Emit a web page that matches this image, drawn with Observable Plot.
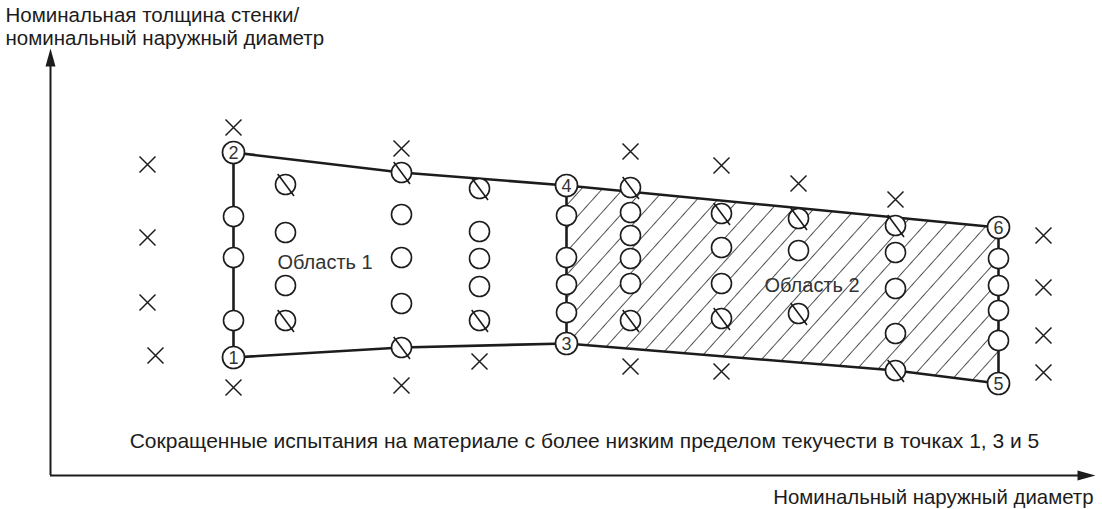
<!DOCTYPE html>
<html>
<head>
<meta charset="utf-8">
<script src="https://cdn.jsdelivr.net/npm/d3@7"></script>
<script src="https://cdn.jsdelivr.net/npm/@observablehq/plot@0.6"></script>
<style>
  body { margin: 0; background: #fff; }
  #chart svg { display: block; }
</style>
</head>
<body>
<div id="chart"></div>
<script>
// ---- Data (schematic units: x = nominal outside diameter, y = wall thickness / diameter) ----
const numberedPoints = [
  {n: "1", x: 183, y: 118},
  {n: "2", x: 183, y: 323},
  {n: "3", x: 516, y: 132},
  {n: "4", x: 516, y: 290},
  {n: "5", x: 948, y: 92},
  {n: "6", x: 948, y: 248}
];
const edgePairs = [["1", "2"], ["3", "4"], ["5", "6"]];

const outlineTop = [
  {x: 183, y: 323}, {x: 351, y: 303}, {x: 516, y: 290}, {x: 948, y: 248}
];
const outlineBottom = [
  {x: 183, y: 118}, {x: 351, y: 128}, {x: 516, y: 132}, {x: 845, y: 105}, {x: 948, y: 92}
];

const openCircles = [
  {x: 183, y: 259}, {x: 183, y: 218}, {x: 183, y: 155},
  {x: 235, y: 243}, {x: 235, y: 190},
  {x: 351, y: 261}, {x: 351, y: 218}, {x: 351, y: 172},
  {x: 429, y: 244}, {x: 429, y: 217}, {x: 429, y: 189},
  {x: 516, y: 260}, {x: 516, y: 218}, {x: 516, y: 191}, {x: 516, y: 163},
  {x: 580, y: 263}, {x: 580, y: 240}, {x: 580, y: 217}, {x: 580, y: 192},
  {x: 671, y: 228}, {x: 671, y: 192},
  {x: 748, y: 225},
  {x: 845, y: 223}, {x: 845, y: 187}, {x: 845, y: 142},
  {x: 948, y: 217}, {x: 948, y: 190}, {x: 948, y: 165}, {x: 948, y: 135}
];

const slashedCircles = [
  {x: 235, y: 291}, {x: 235, y: 155},
  {x: 351, y: 303}, {x: 351, y: 128},
  {x: 429, y: 287}, {x: 429, y: 155},
  {x: 580, y: 288}, {x: 580, y: 155},
  {x: 671, y: 262}, {x: 671, y: 157},
  {x: 748, y: 257}, {x: 748, y: 162},
  {x: 845, y: 250}, {x: 845, y: 105}
];

const crossMarks = [
  {x: 97, y: 311}, {x: 97, y: 238}, {x: 97, y: 173}, {x: 105, y: 120},
  {x: 183, y: 348}, {x: 183, y: 88},
  {x: 351, y: 327}, {x: 351, y: 90},
  {x: 429, y: 114},
  {x: 580, y: 324}, {x: 580, y: 109},
  {x: 671, y: 310}, {x: 671, y: 104},
  {x: 748, y: 292},
  {x: 845, y: 276},
  {x: 993, y: 240}, {x: 993, y: 188}, {x: 993, y: 140}, {x: 993, y: 103}
];

const regionLabels = [
  {text: "Область 1", x: 227, y: 213},
  {text: "Область 2", x: 714, y: 190}
];

const yTitleLines = ["Номинальная толщина стенки/", "номинальный наружный диаметр"];
const xTitle = "Номинальный наружный диаметр";
const caption = "Сокращенные испытания на материале с более низким пределом текучести в точках 1, 3 и 5";

const xExtent = [0, 1045];
const yExtent = [0, 427];

// ---- Derived geometry ----
const byN = Object.fromEntries(numberedPoints.map(d => [d.n, d]));
const edges = edgePairs.map(([a, b]) => ({x1: byN[a].x, y1: byN[a].y, x2: byN[b].x, y2: byN[b].y}));
// hatched Область 2: bottom outline from point 3 to 5, top edge from point 4 to 6
const p3 = byN["3"], p4 = byN["4"], p6 = byN["6"];
const lowerPart = outlineBottom.filter(d => d.x >= p3.x);
const hatchRows = lowerPart.map((d, i) => {
  const t = i === 0 ? p4 : p6;
  return {x1: d.x, y1: d.y, x2: t.x, y2: t.y};
});

// ---- Custom symbols ----
const slashedSymbol = {
  draw(context, size) {
    const r = Math.sqrt(size / Math.PI);
    context.moveTo(r, 0);
    context.arc(0, 0, r, 0, 2 * Math.PI);
    context.moveTo(-0.78 * r, -1.05 * r);
    context.lineTo(0.85 * r, 1.15 * r);
  }
};
const crossSymbol = {
  draw(context, size) {
    const r = Math.sqrt(size / Math.PI);
    context.moveTo(-r, -r); context.lineTo(r, r);
    context.moveTo(r, -r); context.lineTo(-r, r);
  }
};
const arrowUp = {
  draw(context) {
    context.moveTo(0, 0); context.lineTo(-5, 18); context.lineTo(5, 18); context.closePath();
  }
};
const arrowRight = {
  draw(context) {
    context.moveTo(0, 0); context.lineTo(-18, -5); context.lineTo(-18, 5); context.closePath();
  }
};

const ink = "#1c1c1c";

const chart = Plot.plot({
  width: 1102,
  height: 509,
  marginLeft: 50,
  marginRight: 7,
  marginTop: 48,
  marginBottom: 34,
  x: {domain: xExtent, axis: null},
  y: {domain: yExtent, axis: null},
  style: {fontFamily: "'Liberation Sans', Arial, sans-serif", background: "#fff", color: ink},
  marks: [
    // hatched region
    Plot.area(hatchRows, {x1: "x1", y1: "y1", x2: "x2", y2: "y2", fill: "url(#hatch)", curve: "linear"}),
    // axes
    Plot.ruleX([0], {y1: 0, y2: yExtent[1] - 14, stroke: ink, strokeWidth: 2}),
    Plot.ruleY([0], {x1: 0, x2: xExtent[1] - 14, stroke: ink, strokeWidth: 2}),
    Plot.dot([{x: 0, y: yExtent[1]}], {x: "x", y: "y", symbol: arrowUp, fill: ink, stroke: "none"}),
    Plot.dot([{x: xExtent[1], y: 0}], {x: "x", y: "y", symbol: arrowRight, fill: ink, stroke: "none"}),
    // outline
    Plot.line(outlineTop, {x: "x", y: "y", stroke: ink, strokeWidth: 2.6}),
    Plot.line(outlineBottom, {x: "x", y: "y", stroke: ink, strokeWidth: 2.6}),
    Plot.link(edges, {x1: "x1", y1: "y1", x2: "x2", y2: "y2", stroke: ink, strokeWidth: 2.6}),
    // test points
    Plot.dot(openCircles, {x: "x", y: "y", r: 10, fill: "#fff", stroke: ink, strokeWidth: 1.6}),
    Plot.dot(slashedCircles, {x: "x", y: "y", r: 10, symbol: slashedSymbol, fill: "#fff", stroke: ink, strokeWidth: 1.6}),
    Plot.dot(numberedPoints, {x: "x", y: "y", r: 11, fill: "#fff", stroke: ink, strokeWidth: 1.7}),
    Plot.text(numberedPoints, {x: "x", y: "y", text: "n", fontSize: 18, fill: "#333", dy: 1}),
    Plot.dot(crossMarks, {x: "x", y: "y", r: 8, symbol: crossSymbol, stroke: ink, strokeWidth: 1.5}),
    // labels
    Plot.text(regionLabels, {x: "x", y: "y", text: "text", textAnchor: "start", fontSize: 20, fill: "#333"}),
    Plot.text([caption], {x: 534, y: 34, text: d => d, fontSize: 21, fill: ink}),
    Plot.text([xTitle], {x: 1043, y: -22, text: d => d, textAnchor: "end", fontSize: 20.4, fill: ink}),
    Plot.text(yTitleLines.map((t, i) => ({t, i})), {x: -45, y: d => 460 - 23 * d.i, text: "t", textAnchor: "start", fontSize: 20.5, fill: ink})
  ]
});

// hatch pattern definition
const ns = "http://www.w3.org/2000/svg";
const defs = document.createElementNS(ns, "defs");
defs.innerHTML = `<pattern id="hatch" patternUnits="userSpaceOnUse" width="15.5" height="15.5" patternTransform="rotate(42)">
  <line x1="0" y1="-2" x2="0" y2="18" stroke="${ink}" stroke-width="1.5"/>
</pattern>`;
chart.insertBefore(defs, chart.firstChild);

document.getElementById("chart").appendChild(chart);
</script>
</body>
</html>
